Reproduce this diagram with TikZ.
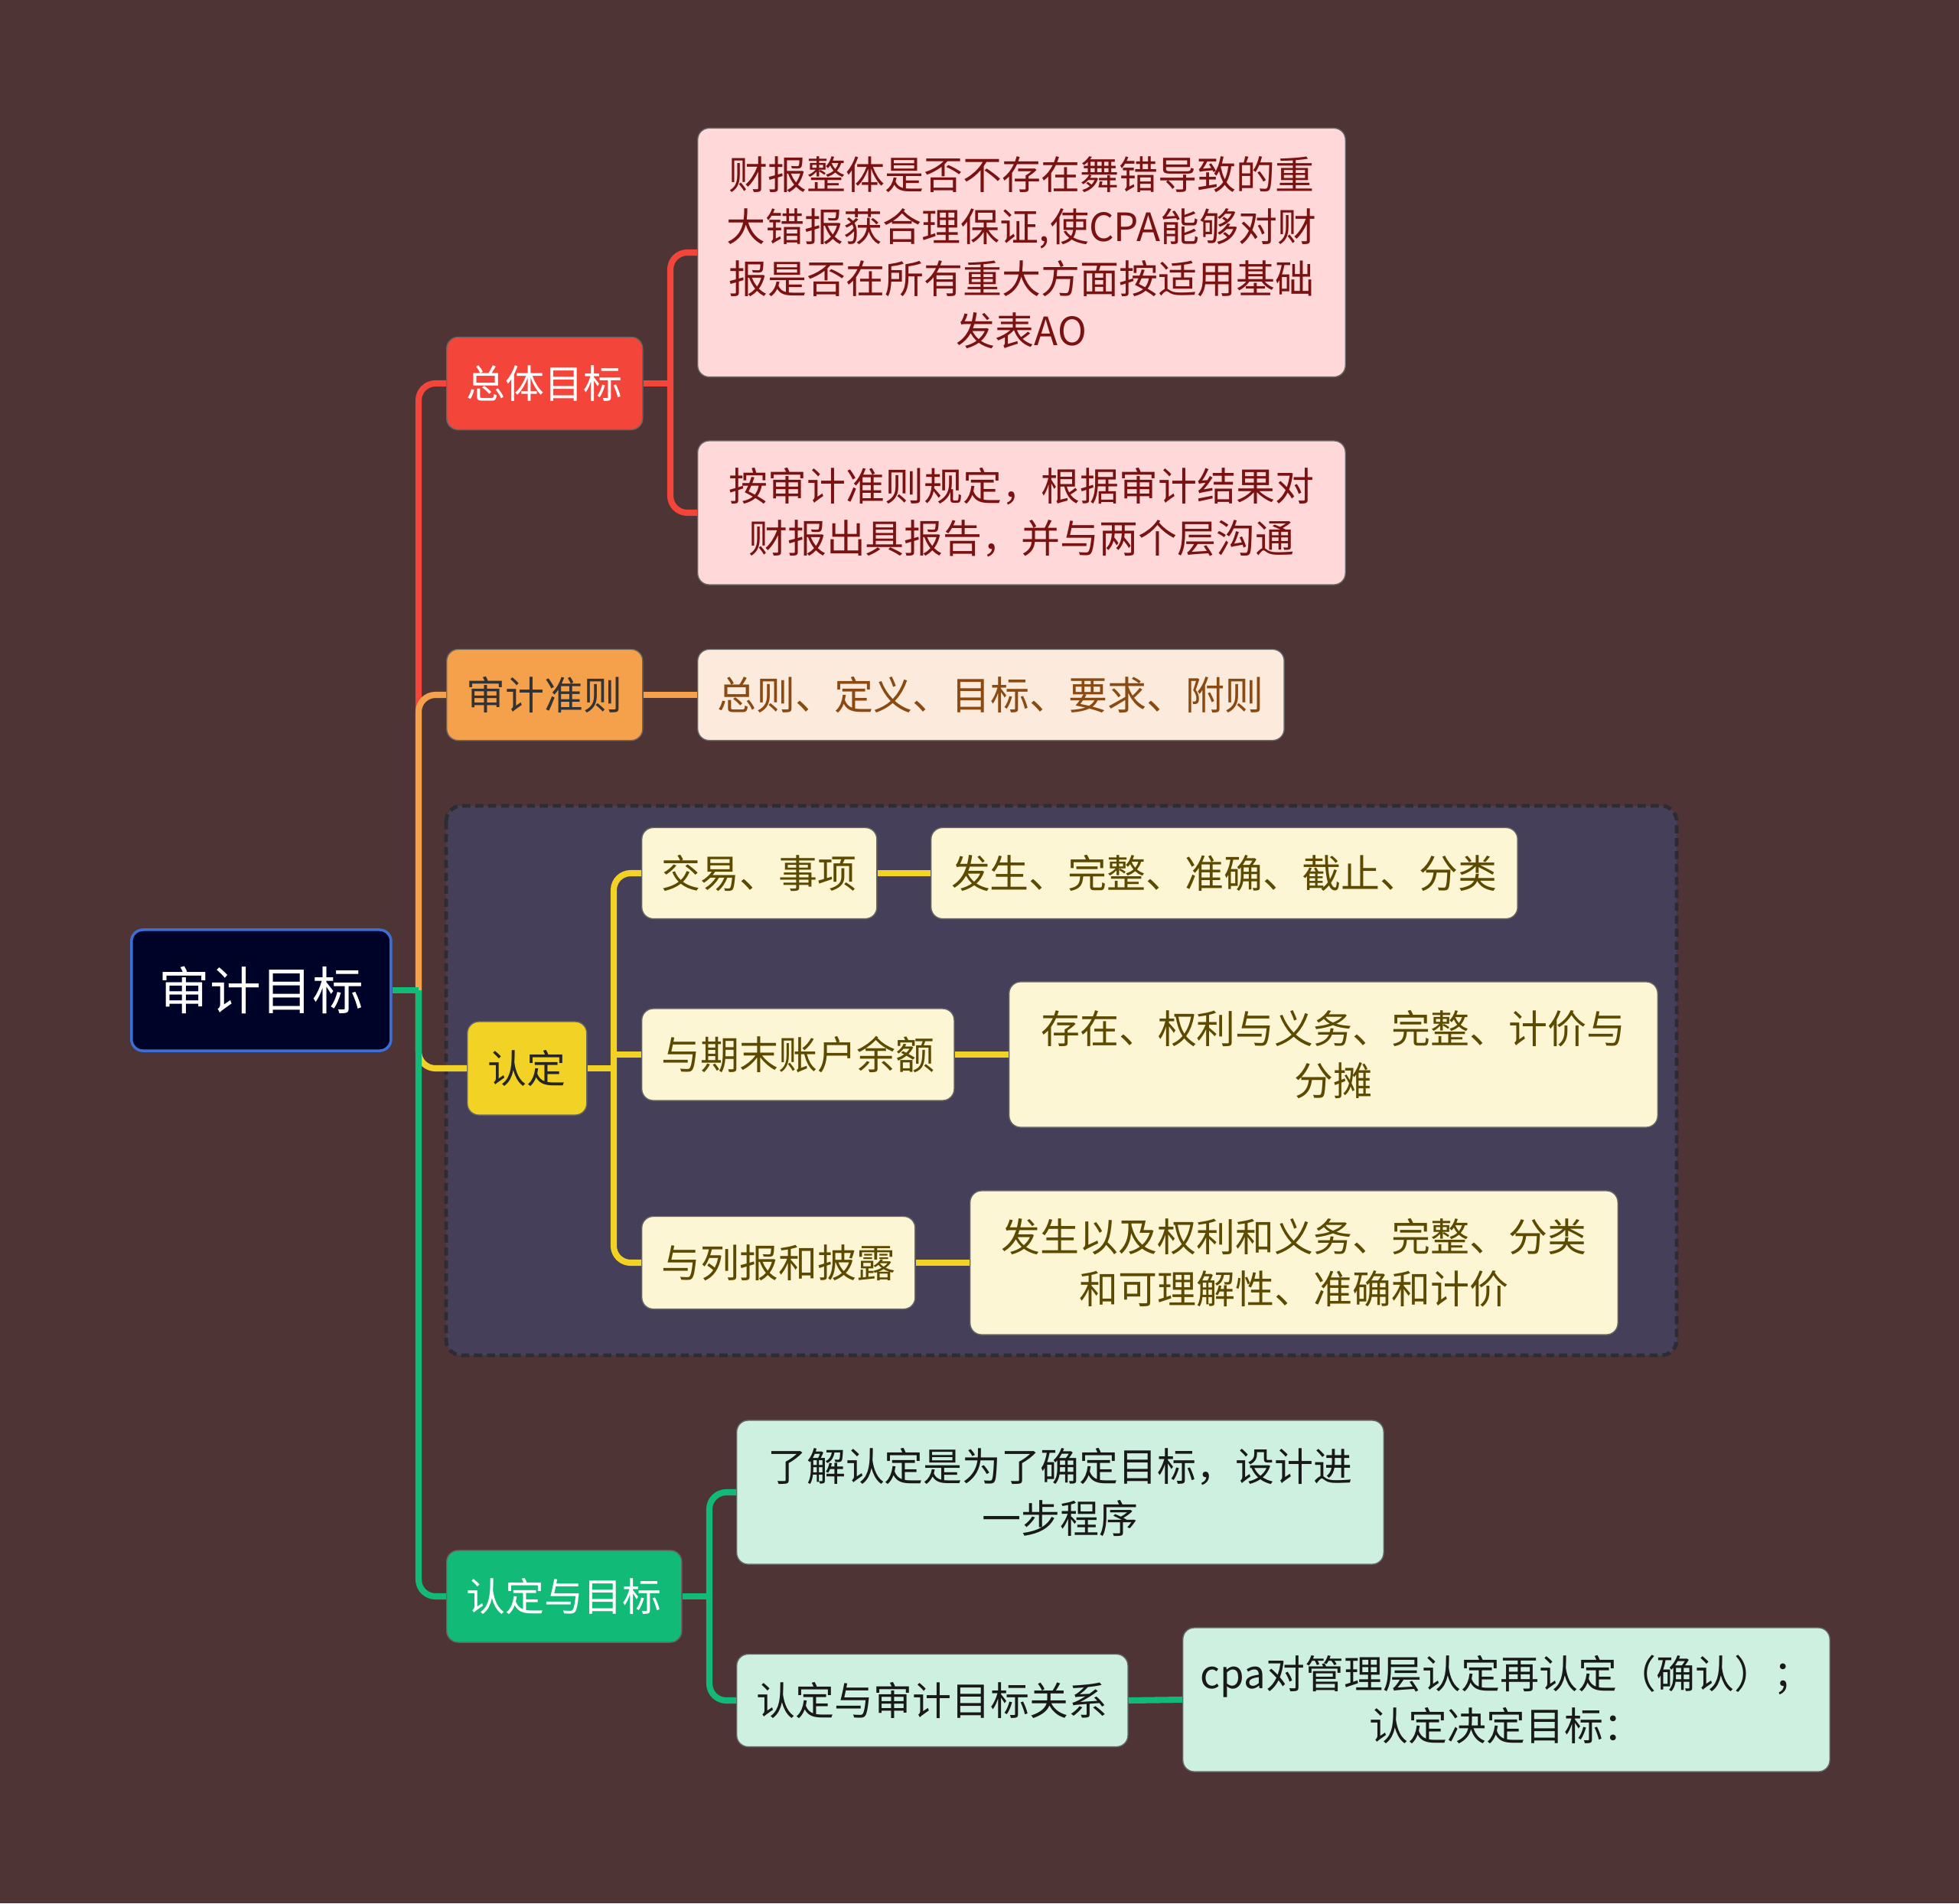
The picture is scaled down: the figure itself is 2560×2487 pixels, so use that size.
\documentclass[tikz,border=0pt]{standalone}
\usepackage{fontspec}
\setmainfont{Noto Sans CJK SC}
\usepackage{tikz}
\usetikzlibrary{positioning,calc}
\definecolor{BgBrown}{HTML}{4E3435}
\definecolor{GroupFill}{HTML}{463F5A}
\definecolor{GroupLine}{HTML}{2E2C33}
\definecolor{RootFill}{HTML}{000328}
\definecolor{RootLine}{HTML}{3B6FD6}
\definecolor{Red}{HTML}{F4453B}
\definecolor{SoftRed}{HTML}{FFD9D9}
\definecolor{DarkRed}{HTML}{7A1212}
\definecolor{Orange}{HTML}{F5A04B}
\definecolor{SoftOrange}{HTML}{FCEBDC}
\definecolor{Brown}{HTML}{8A4A12}
\definecolor{Yellow}{HTML}{F2D325}
\definecolor{SoftYellow}{HTML}{FDF6D5}
\definecolor{Olive}{HTML}{5C4A00}
\definecolor{Green}{HTML}{12BA78}
\definecolor{SoftGreen}{HTML}{CDF0E1}

\begin{document}
\begin{tikzpicture}[x=0.01cm,y=-0.01cm,
  box/.style={rounded corners=0.15cm,draw=black!60,line width=0.4pt,inner sep=0pt,align=center,anchor=west,font=\fontsize{14.5pt}{19.4pt}\selectfont},
  link/.style={line width=2.3pt,rounded corners=0.22cm}]
  \fill[BgBrown] (0,0) rectangle (2560,2487);
  \useasboundingbox (0,0) rectangle (2560,2487);
  \draw[GroupLine,fill=GroupFill,line width=1.4pt,dash pattern=on 3pt off 1.8pt,rounded corners=0.2cm] (583,1053) rectangle (2191,1771);

  \node[box,fill=RootFill,draw=RootLine,line width=1pt,text=white,minimum width=3.39cm,minimum height=1.58cm,font=\fontsize{19pt}{24pt}\selectfont] (root) at (170,1294) {审计目标};
  \coordinate (trunk) at (547,1294);

  \node[box,fill=Red,text=white,minimum width=2.56cm,minimum height=1.21cm] (zongti) at (583,501) {总体目标};
  \node[box,fill=SoftRed,text=DarkRed,minimum width=8.46cm,minimum height=3.25cm] (zongtiA) at (911,330) {财报整体是否不存在舞错导致的重\\大错报获合理保证,使CPA能够对财\\报是否在所有重大方面按适用基础\\发表AO};
  \node[box,fill=SoftRed,text=DarkRed,minimum width=8.46cm,minimum height=1.88cm] (zongtiB) at (911,670) {按审计准则规定，根据审计结果对\\财报出具报告，并与两个层沟通};
  \coordinate (ztr) at (876,501);

  \node[box,fill=Orange,text=black!80,minimum width=2.56cm,minimum height=1.19cm] (zhunze) at (583,908) {审计准则};
  \node[box,fill=SoftOrange,text=Brown,minimum width=7.66cm,minimum height=1.19cm] (zhunzeA) at (911,908) {总则、定义、目标、要求、附则};

  \node[box,fill=Yellow,text=black!85,minimum width=1.56cm,minimum height=1.22cm] (rending) at (610,1396) {认定};
  \node[box,fill=SoftYellow,text=Olive,minimum width=3.07cm,minimum height=1.19cm] (jiaoyi) at (838,1141) {交易、事项};
  \node[box,fill=SoftYellow,text=Olive,minimum width=7.66cm,minimum height=1.19cm] (jiaoyiA) at (1216,1141) {发生、完整、准确、截止、分类};
  \node[box,fill=SoftYellow,text=Olive,minimum width=4.08cm,minimum height=1.2cm] (qimo) at (838,1378) {与期末账户余额};
  \node[box,fill=SoftYellow,text=Olive,minimum width=8.47cm,minimum height=1.9cm] (qimoA) at (1318,1378) {存在、权利与义务、完整、计价与\\分摊};
  \node[box,fill=SoftYellow,text=Olive,minimum width=3.57cm,minimum height=1.21cm] (lie) at (838,1650) {与列报和披露};
  \node[box,fill=SoftYellow,text=Olive,minimum width=8.46cm,minimum height=1.88cm] (lieA) at (1267,1650) {发生以及权利和义务、完整、分类\\和可理解性、准确和计价};
  \coordinate (rtr) at (802,1396);

  \node[box,fill=Green,text=white,minimum width=3.07cm,minimum height=1.2cm] (mubiao) at (583,2086) {认定与目标};
  \node[box,fill=SoftGreen,text=black!90,minimum width=8.45cm,minimum height=1.88cm] (liaojie) at (962,1950) {了解认定是为了确定目标，设计进\\一步程序};
  \node[box,fill=SoftGreen,text=black!90,minimum width=5.11cm,minimum height=1.21cm] (guanxi) at (962,2222) {认定与审计目标关系};
  \node[box,fill=SoftGreen,text=black!90,minimum width=8.45cm,minimum height=1.88cm] (guanxiA) at (1545,2221) {cpa对管理层认定再认定（确认）；\\认定决定目标：};
  \coordinate (mtr) at (927,2086);

  \draw[link,Red] (trunk) |- (zongti.west);
  \draw[link,Red] (zongti.east) -- (ztr);
  \draw[link,Red] (ztr) |- (zongtiA.west);
  \draw[link,Red] (ztr) |- (zongtiB.west);

  \draw[link,Orange] (trunk) |- (zhunze.west);
  \draw[link,Orange] (zhunze.east) -- (zhunzeA.west);

  \draw[link,Yellow] (trunk) |- (rending.west);
  \draw[link,Yellow] (rending.east) -- (rtr);
  \draw[link,Yellow] (rtr) |- (jiaoyi.west);
  \draw[link,Yellow] (qimo.west -| rtr) -- (qimo.west);
  \draw[link,Yellow] (rtr) |- (lie.west);
  \draw[link,Yellow] (jiaoyi.east) -- (jiaoyiA.west);
  \draw[link,Yellow] (qimo.east) -- (qimoA.west);
  \draw[link,Yellow] (lie.east) -- (lieA.west);

  \draw[link,Green] (trunk) |- (mubiao.west);
  \draw[link,Green] (root.east) -- (trunk);
  \draw[link,Green] (mubiao.east) -- (mtr);
  \draw[link,Green] (mtr) |- (liaojie.west);
  \draw[link,Green] (mtr) |- (guanxi.west);
  \draw[link,Green] (guanxi.east) -- (guanxiA.west);
\end{tikzpicture}
\end{document}
